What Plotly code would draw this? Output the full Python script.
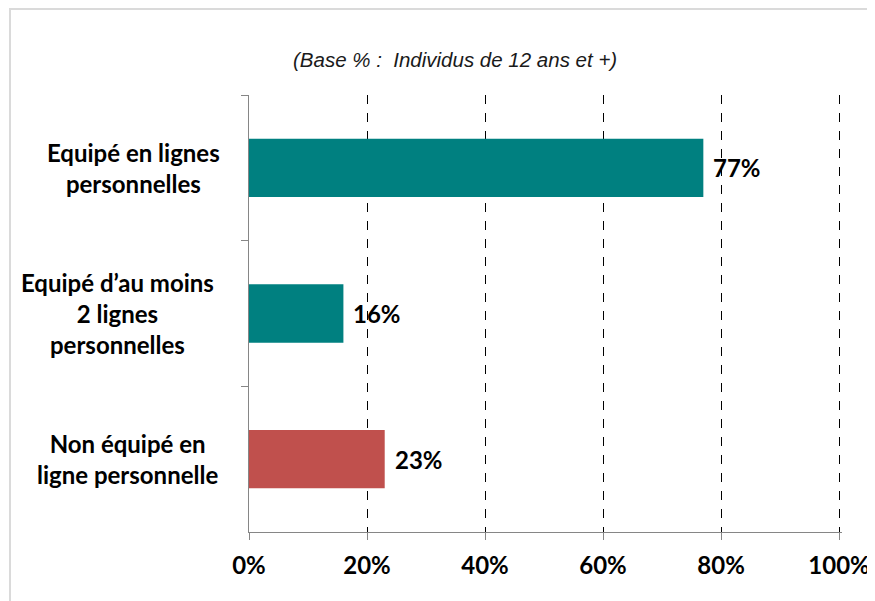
import plotly.graph_objects as go

# data
categories = ["Equipé en lignes<br>personnelles",
              "Equipé d’au moins<br>2 lignes<br>personnelles",
              "Non équipé en<br>ligne personnelle"]
values = [0.77, 0.16, 0.23]
value_labels = ["77%", "16%", "23%"]
bar_colors = ["#008080", "#008080", "#C0504D"]
x_ticks = [0, 0.2, 0.4, 0.6, 0.8, 1.0]
x_tick_labels = ["0%", "20%", "40%", "60%", "80%", "100%"]
subtitle = "(Base % :  Individus de 12 ans et +)"

# the page body has an 8px margin, so the figure is shifted by that much
OFF = 8
XMAX = 1.005
W, H = 875 - OFF, 601 - OFF
L, R, T, B = 249 - OFF, 33, 95 - OFF, 69
pw, ph = W - L - R, H - T - B

def px_x(p):
    return (p - OFF - L) / pw

def px_y(p):
    return (H - B - (p - OFF)) / ph

bold = dict(family="Lato", size=24, color="black", weight="bold")
grey = "#868686"

fig = go.Figure()
fig = fig.add_trace(go.Bar(x=values, y=categories, orientation="h",
        marker_color=bar_colors, marker_line_width=0, width=0.4,
        hoverinfo="skip"))

fig = fig.update_xaxes(range=[0, XMAX], tickvals=x_ticks, ticktext=x_tick_labels,
        showgrid=True, gridcolor="black", gridwidth=1, griddash="dash",
        showline=True, linecolor=grey, linewidth=1,
        ticks="outside", ticklen=7, tickcolor=grey, automargin=False,
        tickfont=bold, zeroline=False, ticklabelstandoff=5)

fig = fig.update_yaxes(type="category", autorange="reversed",
        showgrid=False, showline=True, linecolor=grey, linewidth=1,
        ticks="outside", ticklen=7, tickcolor=grey, tickson="boundaries",
        showticklabels=False, zeroline=False, automargin=False)

# value labels beside the bars
for cat, v, lab in zip(categories, values, value_labels):
    fig.add_annotation(x=v, y=cat, text=lab, showarrow=False,
        xanchor="left", xshift=8, font=bold)

# category labels, centred lines like the original
label_centres = [133, 117, 127]
for cat, cx in zip(categories, label_centres):
    fig.add_annotation(x=px_x(cx), xref="paper", y=cat, yref="y",
        text=cat, showarrow=False, xanchor="center", yanchor="middle",
        align="center", font=bold)

fig.add_annotation(x=px_x(455), xref="paper", y=px_y(60), yref="paper",
    text=subtitle, showarrow=False, xanchor="center", yanchor="middle",
    font=dict(family="Liberation Sans", size=20.5, color="#1a1a1a", style="italic"))

# outer frame of the chart
fig.add_shape(type="rect", xref="paper", yref="paper",
    x0=px_x(10), x1=px_x(885), y0=px_y(611), y1=px_y(9),
    line=dict(color="#878787", width=2), fillcolor="rgba(0,0,0,0)")

fig = fig.update_layout(width=W, height=H, template="simple_white",
    margin=dict(l=L, r=R, t=T, b=B), showlegend=False,
    plot_bgcolor="white", paper_bgcolor="white")

fig.write_html("out.html")
